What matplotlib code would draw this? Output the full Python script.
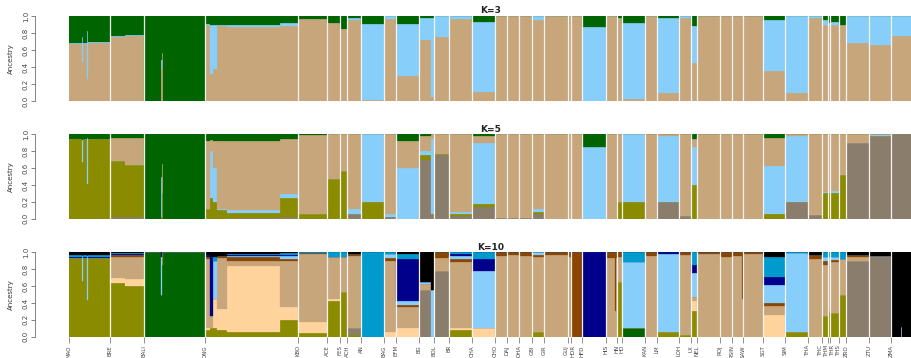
import matplotlib
matplotlib.use('Agg')
import matplotlib.pyplot as plt
import matplotlib.transforms as mtransforms
import numpy as np

# ---------------- data ----------------
# blocks of individuals (population, number of individuals)
block_pop = ['MAO', 'MAO', 'MAO', 'MAO', 'MAO', 'BRE', 'BRE', 'BALI', 'BALI', 'BALI', 'BALI',
             'ONG', 'ONG', 'ONG', 'ONG', 'ONG', 'ONG', 'KBO', 'ACE', 'FES', 'ACH', 'AN', 'BAG',
             'EFM', 'BG', 'BG', 'BOL', 'BR', 'CHA', 'CHO', 'DAJ', 'DHA', 'GBI', 'GIR', 'GUJ',
             'HOR', 'HFD', 'HIS', 'HIS', 'HIS', 'HN', 'HO', 'KAN', 'LM', 'LOH', 'LX', 'NEL',
             'ROJ', 'RSIN', 'RSIN', 'SAW', 'SGT', 'SIM', 'THA', 'THC', 'THM', 'THR', 'THS',
             'ZRO', 'ZTU', 'ZMA', 'ZMA', 'ZMA']
block_n = [13, 1, 4, 1, 22, 15, 19, 17, 1, 1, 42,
           5, 3, 4, 10, 53, 18, 29, 13, 7, 14, 23, 12,
           23, 12, 3, 15, 23, 23, 12, 12, 13, 12, 24, 3,
           11, 24, 9, 1, 1, 5, 23, 12, 22, 12, 6, 23,
           12, 10, 1, 20, 22, 23, 14, 6, 2, 9, 7,
           23, 22, 10, 1, 10]

# K=3 : tan, light blue, dark green
k3 = [[0.67, 0.01, 0.32], [0.46, 0.29, 0.25], [0.67, 0.01, 0.32], [0.26, 0.56, 0.18], [0.68, 0.01, 0.31],
      [0.75, 0.01, 0.24], [0.77, 0.01, 0.22], [0, 0, 1], [0.38, 0.10, 0.52], [0.56, 0, 0.44], [0, 0, 1],
      [0.90, 0.01, 0.09], [0.32, 0.58, 0.10], [0.38, 0.52, 0.10], [0.88, 0.02, 0.10], [0.87, 0.03, 0.10],
      [0.88, 0.04, 0.08], [0.97, 0, 0.03], [0.92, 0, 0.08], [0.85, 0, 0.15], [0.95, 0.03, 0.02],
      [0.01, 0.90, 0.09], [0.97, 0.03, 0], [0.30, 0.61, 0.09], [0.72, 0.26, 0.02], [0.05, 0.93, 0.02],
      [0.75, 0.25, 0], [0.96, 0.04, 0], [0.11, 0.82, 0.07], [1, 0, 0], [1, 0, 0], [1, 0, 0],
      [0.95, 0.05, 0], [1, 0, 0], [1, 0, 0], [1, 0, 0], [0, 0.87, 0.13], [1, 0, 0], [1, 0, 0], [1, 0, 0],
      [0.98, 0, 0.02], [0.02, 0.90, 0.08], [1, 0, 0], [0.10, 0.88, 0.02], [0.98, 0.02, 0],
      [0.45, 0.43, 0.12], [1, 0, 0], [1, 0, 0], [1, 0, 0], [1, 0, 0], [1, 0, 0], [0.35, 0.60, 0.05],
      [0.10, 0.90, 0], [0.98, 0.02, 0], [0.90, 0.05, 0.05], [0.88, 0.04, 0.08], [0.90, 0.03, 0.07],
      [0.90, 0, 0.10], [0.68, 0.32, 0], [0.66, 0.34, 0], [0.77, 0.23, 0], [0.77, 0.23, 0], [0.77, 0.23, 0]]

# K=5 : grey-brown, olive, light blue, tan, dark green
k5 = [[0, 0.94, 0, 0, 0.06], [0, 0.67, 0.26, 0, 0.07], [0, 0.94, 0, 0, 0.06], [0, 0.41, 0.55, 0, 0.04],
      [0, 0.94, 0, 0, 0.06], [0.02, 0.66, 0, 0.28, 0.04], [0.02, 0.62, 0, 0.32, 0.04], [0, 0, 0, 0, 1],
      [0, 0.02, 0.47, 0, 0.51], [0, 0.30, 0, 0.35, 0.35], [0, 0, 0, 0, 1],
      [0, 0.12, 0, 0.80, 0.08], [0, 0.25, 0.55, 0.13, 0.07], [0, 0.20, 0.40, 0.32, 0.08],
      [0, 0.10, 0.02, 0.80, 0.08], [0.01, 0.06, 0.03, 0.82, 0.08], [0.02, 0.22, 0.05, 0.65, 0.06],
      [0, 0.06, 0, 0.93, 0.01], [0, 0.47, 0, 0.53, 0], [0, 0.57, 0, 0.43, 0], [0.06, 0, 0.06, 0.88, 0],
      [0, 0.20, 0.80, 0, 0], [0.02, 0, 0.04, 0.94, 0], [0, 0, 0.60, 0.32, 0.08],
      [0.70, 0.05, 0.05, 0.18, 0.02], [0.05, 0, 0.90, 0.05, 0], [0.75, 0.02, 0, 0.23, 0],
      [0.03, 0.02, 0.03, 0.92, 0], [0.14, 0.04, 0.72, 0.08, 0.02], [0.01, 0, 0, 0.99, 0],
      [0.01, 0, 0, 0.99, 0], [0.01, 0, 0, 0.99, 0], [0.06, 0.02, 0.04, 0.88, 0], [0, 0, 0, 1, 0],
      [0, 0, 0, 1, 0], [0, 0, 0, 1, 0], [0, 0, 0.85, 0, 0.15], [0, 0, 0, 1, 0], [0, 0, 0, 1, 0],
      [0, 0, 0, 1, 0], [0, 0.20, 0, 0.80, 0], [0, 0.20, 0.80, 0, 0], [0, 0, 0, 1, 0],
      [0.20, 0, 0.78, 0.02, 0], [0.03, 0, 0, 0.97, 0], [0, 0.40, 0.45, 0.10, 0.05], [0, 0, 0, 1, 0],
      [0, 0, 0, 1, 0], [0, 0, 0, 1, 0], [0, 0, 0, 1, 0], [0, 0, 0, 1, 0], [0, 0.06, 0.56, 0.34, 0.04],
      [0.20, 0, 0.78, 0.02, 0], [0.04, 0, 0, 0.96, 0], [0, 0.30, 0.02, 0.68, 0], [0, 0.30, 0, 0.70, 0],
      [0, 0.30, 0.03, 0.67, 0], [0, 0.52, 0, 0.48, 0], [0.90, 0, 0, 0.10, 0], [0.98, 0, 0.01, 0.01, 0],
      [1, 0, 0, 0, 0], [1, 0, 0, 0, 0], [1, 0, 0, 0, 0]]

# K=10 : dark green, olive, grey-brown, peach, tan, brown, light blue, navy, deep sky blue, black
k10 = [[0, 0.93, 0, 0, 0, 0, 0, 0.02, 0.02, 0.03], [0, 0.66, 0, 0, 0, 0, 0.30, 0.02, 0, 0.02],
       [0, 0.93, 0, 0, 0, 0, 0, 0.02, 0.02, 0.03], [0, 0.43, 0, 0, 0, 0, 0.53, 0.02, 0, 0.02],
       [0, 0.93, 0, 0, 0, 0, 0, 0.02, 0.02, 0.03], [0, 0.64, 0, 0.06, 0.25, 0.02, 0, 0.01, 0.01, 0.01],
       [0, 0.60, 0, 0.08, 0.27, 0.02, 0, 0.01, 0.01, 0.01], [1, 0, 0, 0, 0, 0, 0, 0, 0, 0],
       [0.50, 0, 0, 0, 0, 0, 0.45, 0.05, 0, 0], [0.85, 0.15, 0, 0, 0, 0, 0, 0, 0, 0],
       [1, 0, 0, 0, 0, 0, 0, 0, 0, 0],
       [0, 0.08, 0, 0.02, 0.82, 0.03, 0, 0.02, 0, 0.03], [0, 0.10, 0, 0, 0.15, 0, 0, 0.70, 0, 0.05],
       [0, 0.10, 0, 0.35, 0, 0, 0.45, 0, 0.05, 0.05], [0, 0.08, 0, 0.25, 0.60, 0.03, 0, 0, 0, 0.04],
       [0, 0.05, 0.01, 0.78, 0.06, 0.05, 0.01, 0.01, 0.01, 0.02],
       [0, 0.20, 0, 0.15, 0.55, 0.02, 0.04, 0.01, 0.02, 0.01],
       [0, 0.04, 0, 0.14, 0.80, 0.01, 0, 0, 0.01, 0], [0, 0.42, 0, 0.03, 0.50, 0, 0, 0, 0.05, 0],
       [0, 0.52, 0, 0, 0.41, 0, 0, 0, 0.05, 0], [0, 0.02, 0.08, 0, 0.86, 0.02, 0, 0, 0, 0.02],
       [0, 0, 0, 0, 0, 0, 0, 0, 1, 0], [0, 0, 0, 0.05, 0.85, 0.03, 0.05, 0, 0.02, 0],
       [0, 0, 0, 0.10, 0.25, 0.03, 0.04, 0.50, 0.06, 0.02], [0, 0, 0.55, 0, 0.08, 0, 0.02, 0, 0, 0.35],
       [0, 0, 0, 0, 0, 0, 0.55, 0, 0, 0.45], [0, 0, 0.78, 0, 0.15, 0.07, 0, 0, 0, 0],
       [0, 0.08, 0, 0.02, 0.78, 0.04, 0.04, 0.02, 0.02, 0], [0, 0, 0, 0.10, 0, 0, 0.68, 0.14, 0.08, 0],
       [0, 0, 0, 0, 0.96, 0.04, 0, 0, 0, 0], [0, 0, 0, 0, 0.97, 0.03, 0, 0, 0, 0],
       [0, 0, 0, 0, 0.96, 0.04, 0, 0, 0, 0], [0, 0.05, 0, 0, 0.90, 0.02, 0.03, 0, 0, 0],
       [0, 0, 0, 0, 0.97, 0.03, 0, 0, 0, 0], [0, 0, 0, 0, 0.95, 0.05, 0, 0, 0, 0],
       [0, 0, 0, 0, 0, 1, 0, 0, 0, 0], [0, 0, 0, 0, 0, 0, 0, 1, 0, 0],
       [0, 0, 0, 0, 0.93, 0.07, 0, 0, 0, 0], [0, 0, 0, 0, 0.30, 0.70, 0, 0, 0, 0],
       [0, 0, 0, 0, 0.93, 0.07, 0, 0, 0, 0], [0, 0.65, 0, 0, 0.30, 0.05, 0, 0, 0, 0],
       [0.10, 0, 0, 0, 0, 0, 0.78, 0.01, 0.11, 0], [0, 0, 0, 0, 0.96, 0.04, 0, 0, 0, 0],
       [0, 0.06, 0, 0, 0, 0, 0.92, 0.02, 0, 0], [0, 0.02, 0, 0, 0.95, 0.03, 0, 0, 0, 0],
       [0, 0.30, 0, 0.12, 0.05, 0, 0.28, 0.10, 0.15, 0], [0, 0, 0, 0, 0.98, 0.02, 0, 0, 0, 0],
       [0, 0, 0, 0, 0.95, 0.05, 0, 0, 0, 0], [0, 0, 0, 0, 0.96, 0.04, 0, 0, 0, 0],
       [0, 0, 0, 0, 0.45, 0.55, 0, 0, 0, 0], [0, 0, 0, 0, 0.98, 0.02, 0, 0, 0, 0],
       [0, 0, 0, 0.26, 0.10, 0.04, 0.21, 0.10, 0.24, 0.05], [0, 0.05, 0, 0, 0, 0, 0.94, 0, 0.01, 0],
       [0, 0, 0, 0, 0.92, 0.05, 0, 0, 0, 0.03], [0, 0.25, 0, 0, 0.60, 0.05, 0.05, 0, 0.05, 0],
       [0, 0.30, 0, 0, 0.55, 0, 0.10, 0, 0.05, 0], [0, 0.28, 0, 0, 0.60, 0.03, 0.03, 0, 0.06, 0],
       [0, 0.50, 0, 0, 0.42, 0, 0, 0, 0.08, 0], [0, 0, 0.90, 0, 0.05, 0.02, 0, 0, 0, 0.03],
       [0, 0, 0.96, 0, 0, 0, 0, 0, 0, 0.04], [0, 0, 0, 0, 0, 0, 0, 0, 0, 1],
       [0, 0, 0, 0, 0, 0, 0.12, 0, 0, 0.88], [0, 0, 0, 0, 0, 0, 0, 0, 0, 1]]

# ---------------- colours ----------------
GREEN, TAN, LBLUE = '#006400', '#C8A67C', '#87CEFA'
OLIVE, GREY, PEACH = '#8B8B00', '#8B7D6B', '#FFD39B'
BROWN, NAVY, DSKY, BLACK = '#8B4500', '#00008B', '#009ACD', '#000000'
cols3 = [TAN, LBLUE, GREEN]
cols5 = [GREY, OLIVE, LBLUE, TAN, GREEN]
cols10 = [GREEN, OLIVE, GREY, PEACH, TAN, BROWN, LBLUE, NAVY, DSKY, BLACK]

# small horizontal nudges (pixels) for crowded population labels
label_nudge = {'GUJ': -1.8, 'HOR': 1.8, 'THC': -1.2, 'THM': -1.8, 'THR': 2.2}

# ---------------- figure ----------------
W, H = 912, 358
fig = plt.figure(figsize=(W / 100, H / 100), dpi=100)
fig.patch.set_facecolor('white')

n = np.array(block_n, float)
left = np.concatenate([[0], np.cumsum(n)[:-1]])
total = n.sum()

# population starts
pop_starts, pop_names = [], []
for i, p in enumerate(block_pop):
    if i == 0 or p != block_pop[i - 1]:
        pop_starts.append(left[i])
        pop_names.append(p)

x0 = 69
panels = [(16, 101, 'K=3', k3, cols3), (134.3, 218.7, 'K=5', k5, cols5),
          (252.3, 336.7, 'K=10', k10, cols10)]
for pi, (top, bot, title, data, cols) in enumerate(panels):
    ax = fig.add_axes([x0 / W, 1 - bot / H, (W - x0) / W, (bot - top) / H])
    P = np.array(data, float)
    P = P / P.sum(axis=1, keepdims=True)
    bottom = np.zeros(len(n))
    for j, c in enumerate(cols):
        ax.bar(left, P[:, j], width=n, bottom=bottom, align='edge', color=c,
               edgecolor=c, linewidth=0.2)
        bottom += P[:, j]
    for s in pop_starts[1:]:
        ax.axvline(s, color='#F4F4F4', lw=0.9, zorder=5)
    ax.set_xlim(0, total)
    ax.set_ylim(0, 1)
    for sp in ['top', 'right', 'bottom']:
        ax.spines[sp].set_visible(False)
    ax.spines['left'].set_position(('axes', -34 / (W - x0)))
    ax.spines['left'].set_bounds(0, 1)
    ax.spines['left'].set_linewidth(0.5)
    ax.spines['left'].set_color('#555555')
    yt = [0, 0.2, 0.4, 0.6, 0.8, 1.0]
    ax.set_yticks(yt)
    ax.set_yticklabels(['%.1f' % v for v in yt], rotation=90, va='center', fontsize=5, color='#444444')
    ax.tick_params(axis='y', length=3, width=0.5, color='#555555', pad=1.5)
    ax.set_ylabel('Ancestry', fontsize=5, color='#333333')
    ax.yaxis.set_label_coords(-55 / (W - x0), 0.5)
    ax.set_title(title, fontsize=6.5, fontweight='bold', pad=2, color='#222222')
    if pi == 2:
        ax.set_xticks(pop_starts)
        ax.set_xticklabels(pop_names, rotation=90, fontsize=4, color='#444444')
        ax.tick_params(axis='x', length=4, width=0.5, color='#666666', pad=2)
        for lab in ax.get_xticklabels():
            dx = label_nudge.get(lab.get_text(), 0)
            if dx:
                lab.set_transform(lab.get_transform() +
                                  mtransforms.ScaledTranslation(dx / 100, 0, fig.dpi_scale_trans))
    else:
        ax.set_xticks([])

fig.savefig('out.png', dpi=100)
